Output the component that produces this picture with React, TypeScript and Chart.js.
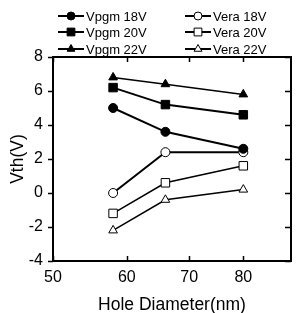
import React, { useEffect, useRef } from "react";
import { Chart, registerables } from "chart.js";
import { drawPoint } from "chart.js/helpers";

Chart.register(...registerables);

const holeDiameters = [58, 66, 80];
const vpgm18 = [5.0, 3.6, 2.6];
const vpgm20 = [6.2, 5.2, 4.6];
const vpgm22 = [6.8, 6.4, 5.8];
const vera18 = [0.0, 2.4, 2.4];
const vera20 = [-1.2, 0.6, 1.6];
const vera22 = [-2.2, -0.4, 0.2];
const xTicks = [50, 60, 70, 80];
const yTicks = [-4, -2, 0, 2, 4, 6, 8];

const FONT = "'Liberation Sans', Arial, sans-serif";

const mk = (label: string, vals: number[], style: string, filled: boolean, radius: number, lw: number) => ({
  label,
  data: vals.map((y, i) => ({ x: holeDiameters[i], y })),
  borderColor: "#000",
  backgroundColor: filled ? "#000" : "#fff",
  pointBackgroundColor: filled ? "#000" : "#fff",
  pointBorderColor: "#000",
  pointBorderWidth: 1,
  pointStyle: style,
  pointRadius: radius,
  borderWidth: lw,
  tension: 0,
});

const framePlugin = {
  id: "frame",
  afterDatasetsDraw(chart: any) {
    const { ctx, chartArea: a, scales } = chart;
    const xs = scales.x;
    const ys = scales.y;
    ctx.save();
    ctx.strokeStyle = "#000";
    ctx.lineWidth = 2;
    ctx.strokeRect(a.left, a.top, a.right - a.left, a.bottom - a.top);
    ctx.lineWidth = 1.5;
    ctx.beginPath();
    for (const v of yTicks) {
      const py = Math.round(ys.getPixelForValue(v)) + 0.5;
      ctx.moveTo(a.left - 5, py);
      ctx.lineTo(a.left, py);
      ctx.moveTo(a.right, py);
      ctx.lineTo(a.right - 6, py);
    }
    for (const v of xTicks) {
      const px = Math.round(xs.getPixelForValue(v)) + 0.5;
      ctx.moveTo(px, a.bottom);
      ctx.lineTo(px, a.bottom - 5);
      ctx.moveTo(px, a.top);
      ctx.lineTo(px, a.top + 5);
    }
    ctx.stroke();
    ctx.restore();
  },
  afterDraw(chart: any) {
    const { ctx } = chart;
    const cols = [58, 185];
    const rows = [16, 32, 49];
    ctx.save();
    ctx.font = `13px ${FONT}`;
    ctx.textBaseline = "middle";
    ctx.fillStyle = "#000";
    chart.data.datasets.forEach((ds: any, i: number) => {
      const x0 = cols[Math.floor(i / 3)];
      const y = rows[i % 3];
      ctx.strokeStyle = "#000";
      ctx.lineWidth = 2;
      ctx.beginPath();
      ctx.moveTo(x0, y);
      ctx.lineTo(x0 + 26, y);
      ctx.stroke();
      ctx.fillStyle = ds.pointBackgroundColor;
      ctx.strokeStyle = "#000";
      ctx.lineWidth = 1;
      drawPoint(ctx, { pointStyle: ds.pointStyle, radius: ds.pointRadius - 0.5, borderWidth: 1, rotation: 0 } as any, x0 + 13, y);
      ctx.fillStyle = "#000";
      ctx.fillText(ds.label, x0 + 28, y + 1);
    });
    ctx.restore();
  },
};

export default function App() {
  const ref = useRef<HTMLCanvasElement>(null);
  useEffect(() => {
    const chart = new Chart(ref.current!, {
      type: "line",
      data: {
        datasets: [
          mk("Vpgm 18V", vpgm18, "circle", true, 4.5, 2),
          mk("Vpgm 20V", vpgm20, "rect", true, 6, 2),
          mk("Vpgm 22V", vpgm22, "triangle", true, 5, 1.5),
          mk("Vera 18V", vera18, "circle", false, 4.5, 2),
          mk("Vera 20V", vera20, "rect", false, 6, 1.5),
          mk("Vera 22V", vera22, "triangle", false, 5, 1.5),
        ] as any,
      },
      options: {
        animation: false,
        responsive: false,
        maintainAspectRatio: false,
        layout: { padding: { top: 57, right: 1, left: 0, bottom: 0 } },
        plugins: { legend: { display: false }, tooltip: { enabled: false } },
        scales: {
          x: {
            type: "logarithmic",
            min: 50,
            max: 90,
            afterBuildTicks: (s: any) => {
              s.ticks = xTicks.map((v) => ({ value: v }));
            },
            afterFit: (s: any) => {
              s.height = 52;
            },
            grid: { display: false, drawTicks: false },
            border: { display: false },
            ticks: {
              callback: (v: any) => String(v),
              color: "#000",
              font: { family: FONT, size: 16 },
              padding: 7,
              maxRotation: 0,
              autoSkip: false,
            },
            title: {
              display: true,
              text: "Hole Diameter(nm)",
              color: "#000",
              font: { family: FONT, size: 17.5 },
              padding: { top: 4, bottom: -3 },
            },
          },
          y: {
            type: "linear",
            min: -4,
            max: 8,
            afterBuildTicks: (s: any) => {
              s.ticks = yTicks.map((v) => ({ value: v }));
            },
            afterFit: (s: any) => {
              s.width = 53;
            },
            grid: { display: false, drawTicks: false },
            border: { display: false },
            ticks: {
              color: "#000",
              font: { family: FONT, size: 16 },
              padding: 10,
            },
            title: {
              display: true,
              text: "Vth(V)",
              color: "#000",
              font: { family: FONT, size: 17.5 },
              padding: { top: 8, bottom: 0 },
            },
          },
        },
      } as any,
      plugins: [framePlugin],
    });
    return () => chart.destroy();
  }, []);
  return (
    <div style={{ position: "fixed", left: 0, top: 0, width: 298, height: 313, background: "#fff" }}>
      <canvas ref={ref} width={298} height={313} style={{ width: 298, height: 313 }} />
    </div>
  );
}
